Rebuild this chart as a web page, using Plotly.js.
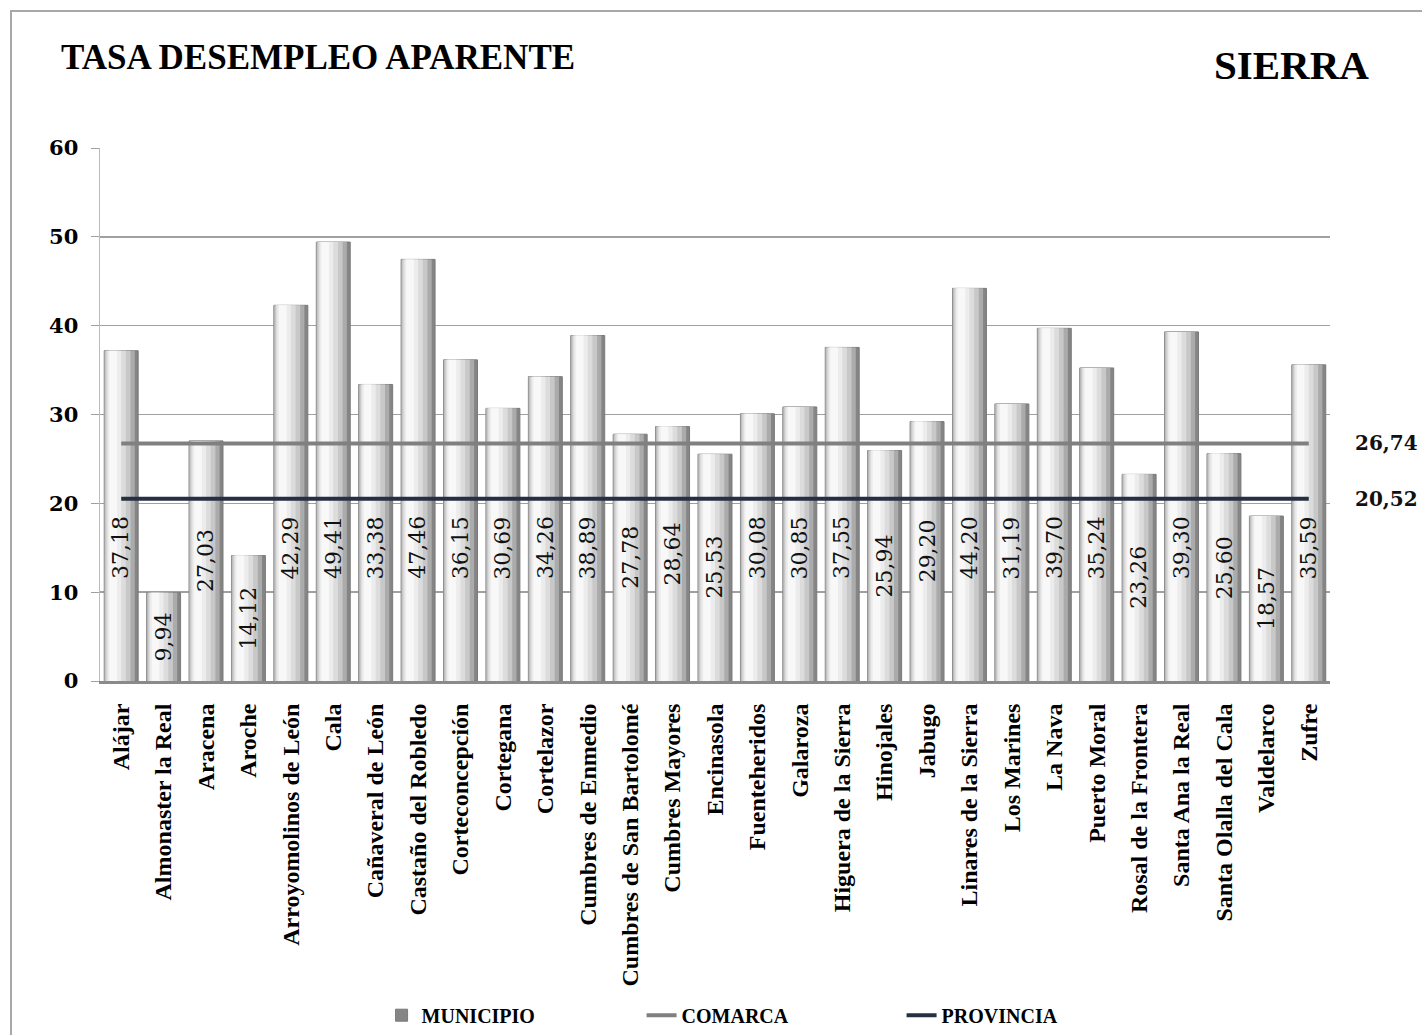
<!DOCTYPE html>
<html><head><meta charset="utf-8">
<script src="https://cdn.plot.ly/plotly-3.0.1.min.js"></script>
<style>
html,body{margin:0;padding:0;background:#fff;}
#wrap{position:relative;width:1422px;height:1035px;}
#chart{width:1422px;height:1035px;}
#frame{position:absolute;left:10px;top:10px;width:1420px;height:1030px;border-left:2px solid #a8a8a8;border-top:2px solid #a8a8a8;pointer-events:none;}
</style></head>
<body><div id="wrap"><div id="chart"></div><div id="frame"></div></div>
<script>
const municipios = ["Alájar","Almonaster la Real","Aracena","Aroche","Arroyomolinos de León","Cala","Cañaveral de León","Castaño del Robledo","Corteconcepción","Cortegana","Cortelazor","Cumbres de Enmedio","Cumbres de San Bartolomé","Cumbres Mayores","Encinasola","Fuenteheridos","Galaroza","Higuera de la Sierra","Hinojales","Jabugo","Linares de la Sierra","Los Marines","La Nava","Puerto Moral","Rosal de la Frontera","Santa Ana la Real","Santa Olalla del Cala","Valdelarco","Zufre"];
const tasaMunicipio = [37.18,9.94,27.03,14.12,42.29,49.41,33.38,47.46,36.15,30.69,34.26,38.89,27.78,28.64,25.53,30.08,30.85,37.55,25.94,29.20,44.20,31.19,39.70,35.24,23.26,39.30,25.60,18.57,35.59];
const tasaComarca = 26.74;
const tasaProvincia = 20.52;
const yTicks = [0,10,20,30,40,50,60];

const fmt = v => v.toFixed(2).replace('.', ',');

// stepped shading layers to mimic cylinder bars
const layers = [
  {off:-0.40, w:0.80, c:'#858585'},
  {off:-0.40, w:0.72, c:'#ababab'},
  {off:-0.38, w:0.60, c:'#c8c8c8'},
  {off:-0.35, w:0.46, c:'#dcdcdc'},
  {off:-0.32, w:0.32, c:'#ececec'},
  {off:-0.28, w:0.18, c:'#f8f8f8'}
];
const traces = layers.map((L,i)=>({
  type:'bar', x:municipios, y:tasaMunicipio, offset:L.off, width:L.w,
  marker:{color:L.c, line:{width:i===0?1:0, color:'#7a7a7a'}},
  name:'<b>MUNICIPIO</b>', showlegend:i===0, legendgroup:'m', hoverinfo:'x+y'
}));
traces.push({type:'scatter', mode:'lines', x:municipios, y:municipios.map(()=>tasaComarca),
  line:{color:'#808080', width:4}, name:'<b>COMARCA</b>'});
traces.push({type:'scatter', mode:'lines', x:municipios, y:municipios.map(()=>tasaProvincia),
  line:{color:'#253140', width:4}, name:'<b>PROVINCIA</b>'});

const annotations = municipios.map((m,i)=>({
  x:m, y:Math.min(tasaMunicipio[i]/2, 15), xref:'x', yref:'y', text:fmt(tasaMunicipio[i]),
  showarrow:false, textangle:-90, font:{family:'DejaVu Serif', size:22, color:'#111'}
}));
[tasaComarca, tasaProvincia].forEach(v=>annotations.push({
  xref:'paper', x:1.073, yref:'y', y:v, text:'<b>'+fmt(v)+'</b>', showarrow:false,
  xanchor:'right', font:{family:'DejaVu Serif', size:20, color:'#111'}
}));
annotations.push({xref:'paper', yref:'paper', x:-0.033, y:1.169, xanchor:'left', yanchor:'middle',
  text:'<b>TASA DESEMPLEO APARENTE</b>', showarrow:false,
  font:{family:'Liberation Serif', size:35, color:'#000'}});
annotations.push({xref:'paper', yref:'paper', x:1.033, y:1.156, xanchor:'right', yanchor:'middle',
  text:'<b>SIERRA</b>', showarrow:false,
  font:{family:'Liberation Serif', size:41, color:'#000'}});

const layout = {
  width:1422, height:1035,
  margin:{l:100, r:92, t:148, b:354, autoexpand:false},
  paper_bgcolor:'#fff', plot_bgcolor:'#fff',
  barmode:'overlay',
  showlegend:true,
  legend:{orientation:'h', x:0.546, xanchor:'center', y:-0.627, yanchor:'middle',
    entrywidth:215, entrywidthmode:'pixels',
    font:{family:'Liberation Serif', size:20, color:'#000'}},
  xaxis:{type:'category', tickangle:-90, showline:true, linecolor:'#8a8a8a', linewidth:3,
    ticks:'', showgrid:false, automargin:false, ticklabelstandoff:10,
    tickfont:{family:'Liberation Serif', size:24, color:'#000'}},
  yaxis:{range:[0,60], tickvals:yTicks, showgrid:true, automargin:false, ticklabelstandoff:8,
    gridcolor:'#a0a0a0', gridwidth:1.5, showline:true, linecolor:'#bbbbbb', linewidth:1.5,
    ticks:'outside', ticklen:8, tickcolor:'#a0a0a0', zeroline:false,
    tickfont:{family:'DejaVu Serif', size:21, color:'#000'}},
  annotations:annotations
};
layout.xaxis.ticktext = municipios.map(m=>'<b>'+m+'</b>');
layout.xaxis.tickvals = municipios;
layout.yaxis.ticktext = yTicks.map(v=>'<b>'+v+'</b>');
Plotly.newPlot('chart', traces, layout, {displayModeBar:false, staticPlot:true});
</script></body></html>
